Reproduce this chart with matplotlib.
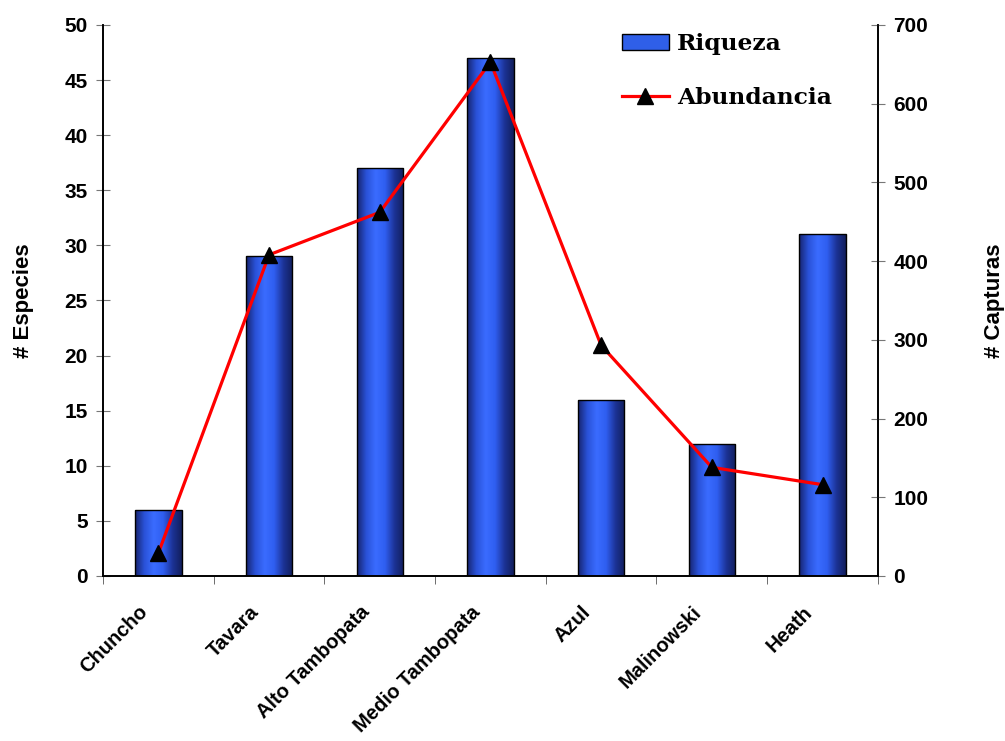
import matplotlib
matplotlib.use("Agg")
import matplotlib.pyplot as plt
import numpy as np
from matplotlib.colors import LinearSegmentedColormap
from matplotlib.lines import Line2D
from matplotlib.patches import Patch
from matplotlib.transforms import ScaledTranslation

categories = ["Chuncho", "Tavara", "Alto Tambopata", "Medio Tambopata", "Azul", "Malinowski", "Heath"]
riqueza = [6, 29, 37, 47, 16, 12, 31]
abundancia = [29, 408, 462, 653, 293, 138, 116]

fig = plt.figure(figsize=(10.05, 7.41), dpi=100)
ax = fig.add_axes([0.1025, 0.2227, 0.771, 0.7436])
ax2 = ax.twinx()

x = np.arange(len(categories))
bars = ax.bar(x, riqueza, width=0.42, color="#2f5fe8", edgecolor="black", linewidth=1.0, zorder=2)

cmap = LinearSegmentedColormap.from_list("cyl", ["#16246e", "#2a52d8", "#3a6cff", "#2f5ef0", "#1c3396", "#121e5c"])
grad = np.linspace(0, 1, 256).reshape(1, -1)
for b in bars:
    bx, by = b.get_x(), b.get_y()
    w, h = b.get_width(), b.get_height()
    im = ax.imshow(grad, cmap=cmap, aspect="auto", extent=[bx, bx + w, by, by + h], zorder=2.5)
    im.set_clip_path(b)
    b.set_facecolor("none")
    b.set_zorder(3)

ax.set_xlim(-0.5, len(categories) - 0.5)
ax.set_ylim(0, 50)
ax.set_yticks(range(0, 51, 5))
ax.set_xticks(x)
ax.set_xticklabels(categories, rotation=45, ha="right", rotation_mode="anchor",
                   fontsize=14.5, fontweight="bold", fontfamily="Liberation Sans")
ax.tick_params(axis="x", length=0, pad=14)
offset = ScaledTranslation(-0.2, -0.07, fig.dpi_scale_trans)
for lab in ax.get_xticklabels():
    lab.set_transform(lab.get_transform() + offset)
ax.set_xticks(np.arange(-0.5, len(categories), 1), minor=True)
ax.tick_params(axis="x", which="minor", length=6, direction="out", color="#555555")
for lab in ax.get_yticklabels():
    lab.set_fontfamily("Liberation Sans"); lab.set_fontweight("bold"); lab.set_fontsize(15)
ax.tick_params(axis="y", length=10, direction="inout", color="#777777", pad=6)
ax.set_ylabel("# Especies", fontsize=16, fontweight="bold", fontfamily="Liberation Sans", labelpad=22)

ax2.plot(x, abundancia, color="#ff0000", linewidth=2.3, marker="^", markersize=12,
         markerfacecolor="black", markeredgecolor="black", zorder=5)
ax2.set_ylim(0, 700)
ax2.set_yticks(range(0, 701, 100))
for lab in ax2.get_yticklabels():
    lab.set_fontfamily("Liberation Sans"); lab.set_fontweight("bold"); lab.set_fontsize(15)
ax2.tick_params(axis="y", length=10, direction="inout", color="#777777", pad=6)
ax2.set_ylabel("# Capturas", fontsize=16, fontweight="bold", fontfamily="Liberation Sans", labelpad=40)

for a in (ax, ax2):
    a.spines["top"].set_visible(False)
    for s in ("left", "right", "bottom"):
        a.spines[s].set_linewidth(1.2)

handles = [Patch(facecolor="#2f5fe8", edgecolor="black", label="Riqueza"),
           Line2D([0], [0], color="#ff0000", lw=2.3, marker="^", markersize=12,
                  markerfacecolor="black", markeredgecolor="black", label="Abundancia")]
ax2.legend(handles=handles, loc="upper left", bbox_to_anchor=(0.67, 0.985), frameon=False,
           prop={"family": "DejaVu Serif", "weight": "bold", "size": 16.8},
           handlelength=2.0, labelspacing=1.35, handletextpad=0.35,
           borderpad=0, borderaxespad=0)

fig.savefig("out.png", dpi=100)
